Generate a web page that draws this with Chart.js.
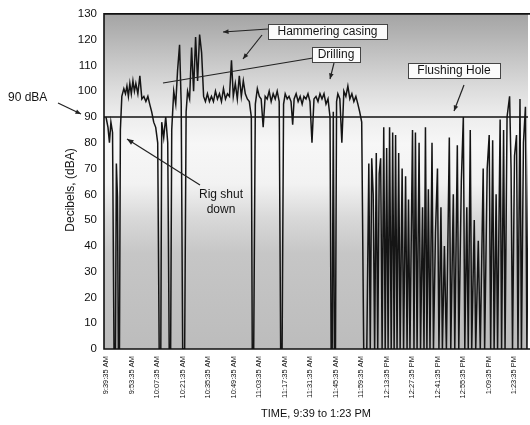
<!DOCTYPE html>
<html><head><meta charset="utf-8">
<script src="https://cdn.jsdelivr.net/npm/chart.js@4/dist/chart.umd.min.js"></script>
<style>html,body{margin:0;padding:0;background:#fff;overflow:hidden}#wrap{width:530px;height:425px;position:relative}</style>
</head><body><div id="wrap"><canvas id="c" width="530" height="425"></canvas></div>
<script>
// ---- data (minutes after 9:39:35 AM, sound level in dBA) ----
const tickMinutes = [0,14,28,42,56,70,84,98,112,126,140,154,168,182,196,210,224];
const tickLabels = ["9:39:35 AM","9:53:35 AM","10:07:35 AM","10:21:35 AM","10:35:35 AM","10:49:35 AM","11:03:35 AM","11:17:35 AM","11:31:35 AM","11:45:35 AM","11:59:35 AM","12:13:35 PM","12:27:35 PM","12:41:35 PM","12:55:35 PM","1:09:35 PM","1:23:35 PM"];
const sampleMinutes = [
0.0,1.1,1.9,2.7,3.6,4.4,5.2,5.7,6.3,6.8,7.4,7.9,8.7,9.8,10.7,11.5,12.3,13.1,13.9,14.8,15.6,16.4,17.5,18.6,19.7,20.8,21.9,23.0,24.0,25.1,26.2,27.3,28.4,29.2,30.1,30.6,31.7,32.8,33.9,34.7,35.5,36.1,37.2,38.3,39.3,40.4,41.3,42.1,43.2,44.0,44.8,45.9,47.0,48.1,49.2,50.3,51.4,52.5,53.6,
54.6,55.7,56.8,57.9,59.0,60.1,61.2,62.3,63.4,64.5,65.6,66.7,67.8,68.9,69.9,71.0,72.1,73.2,74.3,75.4,76.5,77.6,78.7,79.8,80.3,81.1,82.0,83.1,84.2,85.2,86.3,87.4,88.5,89.6,90.7,91.8,92.9,94.0,95.1,95.9,96.7,97.5,98.4,99.5,100.5,101.6,102.5,103.3,104.4,105.5,106.6,107.7,108.7,109.8,110.9,112.0,113.1,114.2,115.3,116.4,117.5,118.6,119.7,120.8,121.9,123.0,123.6,124.2,124.8,125.4,126.0,126.6,127.3,128.4,129.5,130.6,131.7,132.8,133.9,135.0,136.1,137.2,138.3,139.3,140.4,141.5,142.6,
143.2,144.3,145.1,145.9,146.7,147.5,148.4,149.2,150.0,150.8,151.6,152.5,153.3,154.1,154.9,155.7,156.6,157.4,158.2,159.0,159.8,160.7,161.5,162.6,163.4,164.5,165.3,166.1,166.9,168.3,169.1,169.9,170.8,171.9,172.7,173.8,174.6,175.4,176.2,177.0,177.9,179.0,179.8,180.9,182.0,182.8,183.9,184.7,185.8,186.9,188.5,189.3,190.7,191.5,192.9,193.7,195.1,196.2,197.0,198.1,198.9,200.0,200.8,202.2,203.0,204.4,205.5,207.1,207.9,209.3,210.4,211.2,212.3,213.1,214.2,215.0,216.4,217.2,218.3,219.1,220.2,221.6,222.4,223.2,224.3,225.4,226.2,227.3,228.1,229.2,230.3,231.1,232.2];
const sampleDBA = [
90,86,80,88,84,0,0,72,59,0,0,85,98,101,99,102,98,103,99,104,100,103,99,106,97,98,96,98,95,92,88,86,80,0,0,88,82,90,80,0,0,85,100,95,108,118,95,0,0,92,100,97,117,100,121,104,122,115,98,
96,99,96,98,96,100,97,99,96,101,97,99,98,112,98,103,97,106,98,104,99,97,96,90,0,0,95,101,98,97,86,98,97,100,96,99,97,100,96,0,0,95,99,97,98,96,87,97,99,96,98,95,98,97,99,96,80,97,98,96,99,97,99,95,97,90,0,0,92,0,0,96,99,97,80,100,98,102,97,99,96,98,95,92,88,0,0,
0,72,0,74,60,0,76,0,68,74,0,86,0,78,0,86,0,84,0,83,0,76,0,70,0,67,0,58,0,85,0,84,0,80,0,55,0,86,0,62,0,80,0,45,70,0,55,0,40,0,82,0,60,0,79,0,65,90,0,55,0,85,0,50,0,42,0,70,0,70,83,0,81,0,60,0,89,0,85,0,90,98,70,0,75,83,0,97,0,80,94,0,85];
const limitDBA = 90;
const yMin = 0, yMax = 130, yStep = 10;

const FONT = "'Liberation Sans', Arial, Helvetica, sans-serif";

const scanBackground = {
  id: 'scanBackground',
  beforeDraw(chart) {
    const {ctx, chartArea: a} = chart;
    const g = ctx.createLinearGradient(0, a.top, 0, a.bottom);
    const h = a.bottom - a.top;
    const stop = (y, c) => g.addColorStop(Math.min(1, Math.max(0, (y - a.top) / h)), c);
    stop(a.top, '#a4a4a4'); stop(a.top + 22, '#b4b4b4'); stop(a.top + 48, '#c8c8c8');
    stop(a.top + 75, '#dcdcdc'); stop(a.top + 100, '#ececec'); stop(a.top + 130, '#f7f7f7');
    stop(a.top + 170, '#f2f2f2'); stop(a.top + 205, '#d8d8d8'); stop(a.top + 240, '#c6c6c6');
    stop(a.bottom, '#bcbcbc');
    ctx.save(); ctx.fillStyle = g; ctx.fillRect(a.left, a.top, a.right - a.left, h); ctx.restore();
  }
};

function arrow(ctx, x1, y1, x2, y2, head) {
  ctx.beginPath(); ctx.moveTo(x1, y1); ctx.lineTo(x2, y2); ctx.stroke();
  if (!head) return;
  const ang = Math.atan2(y2 - y1, x2 - x1);
  ctx.beginPath();
  ctx.moveTo(x2, y2);
  ctx.lineTo(x2 - head * Math.cos(ang - 0.4), y2 - head * Math.sin(ang - 0.4));
  ctx.lineTo(x2 - head * Math.cos(ang + 0.4), y2 - head * Math.sin(ang + 0.4));
  ctx.closePath(); ctx.fill();
}
function box(ctx, x, y, w, h, text) {
  ctx.fillStyle = '#fbfbfb'; ctx.fillRect(x, y, w, h);
  ctx.strokeStyle = '#444'; ctx.lineWidth = 1; ctx.strokeRect(x + 0.5, y + 0.5, w, h);
  ctx.fillStyle = '#151515'; ctx.textAlign = 'center'; ctx.textBaseline = 'middle';
  ctx.fillText(text, x + w / 2, y + h / 2 + 0.5);
}

const annotations = {
  id: 'annotations',
  afterDraw(chart) {
    const {ctx, chartArea: a} = chart;
    ctx.save();
    // frame
    ctx.strokeStyle = '#111'; ctx.lineWidth = 1.6;
    ctx.beginPath();
    ctx.moveTo(a.right + 2, a.top); ctx.lineTo(a.left, a.top); ctx.lineTo(a.left, a.bottom); ctx.lineTo(a.right + 2, a.bottom);
    ctx.stroke();
    ctx.font = '12px ' + FONT;
    ctx.strokeStyle = '#222'; ctx.fillStyle = '#222'; ctx.lineWidth = 1.2;
    // arrows
    arrow(ctx, 268, 29, 223, 32, 6);
    arrow(ctx, 262, 35, 243, 59, 6);
    arrow(ctx, 313, 58, 163, 83, 0);
    arrow(ctx, 334, 63, 330, 79, 6);
    arrow(ctx, 464, 85, 454, 111, 6);
    arrow(ctx, 200, 185, 127, 139, 7);
    arrow(ctx, 58, 103, 81, 114, 6);
    // boxes
    box(ctx, 268, 24, 119, 15, 'Hammering casing');
    box(ctx, 312, 47, 48, 15, 'Drilling');
    box(ctx, 408, 63, 92, 15, 'Flushing Hole');
    // free text
    ctx.fillStyle = '#151515'; ctx.textAlign = 'center'; ctx.textBaseline = 'middle';
    ctx.fillText('Rig shut', 221, 195);
    ctx.fillText('down', 221, 210);
    ctx.textAlign = 'left';
    ctx.fillText('90 dBA', 8, 98);
    // y axis title (rotated), centred a little below the plot middle as in the original
    ctx.save();
    ctx.translate(71, 190); ctx.rotate(-Math.PI / 2);
    ctx.textAlign = 'center'; ctx.textBaseline = 'middle';
    ctx.font = '12px ' + FONT;
    ctx.fillText('Decibels, (dBA)', 0, 0);
    ctx.restore();
    ctx.restore();
  }
};

const lineData = sampleMinutes.map((m, i) => ({x: m, y: sampleDBA[i]}));
const limitData = [{x: -2, y: limitDBA}, {x: 240, y: limitDBA}];

new Chart(document.getElementById('c'), {
  type: 'line',
  data: {
    datasets: [
      {label: 'Sound level', data: lineData, borderColor: '#151515', borderWidth: 1.5, pointRadius: 0, tension: 0, fill: false},
      {label: '90 dBA limit', data: limitData, borderColor: '#111', borderWidth: 1.7, pointRadius: 0, fill: false}
    ]
  },
  options: {
    responsive: false, animation: false, devicePixelRatio: 1,
    layout: {padding: {top: 13, left: 0, right: 0, bottom: 0}},
    plugins: {legend: {display: false}, tooltip: {enabled: false}},
    scales: {
      x: {
        type: 'linear', min: -1.09, max: 231.7,
        grid: {display: false, drawTicks: false}, border: {display: false},
        afterBuildTicks: s => { s.ticks = tickMinutes.map(v => ({value: v})); },
        afterFit: s => { s.height = 76; },
        ticks: {autoSkip: false, maxRotation: 90, minRotation: 90, padding: 7,
          font: {size: 7.5, family: FONT}, color: '#111'},
        title: {display: true, text: 'TIME, 9:39 to 1:23 PM', color: '#111',
          font: {size: 11, family: FONT}, padding: {top: 0, bottom: 4}}
      },
      y: {
        min: yMin, max: yMax,
        grid: {display: false, drawTicks: false}, border: {display: false},
        afterFit: s => { s.width = 104; },
        ticks: {stepSize: yStep, padding: 7, font: {size: 11.5, family: FONT}, color: '#111'},
        title: {display: false, text: 'Decibels, (dBA)'}
      }
    }
  },
  plugins: [scanBackground, annotations]
});
// x tick text comes from tickLabels
Chart.getChart('c').options.scales.x.ticks.callback = (v, i) => tickLabels[i];
Chart.getChart('c').update('none');
</script></body></html>
